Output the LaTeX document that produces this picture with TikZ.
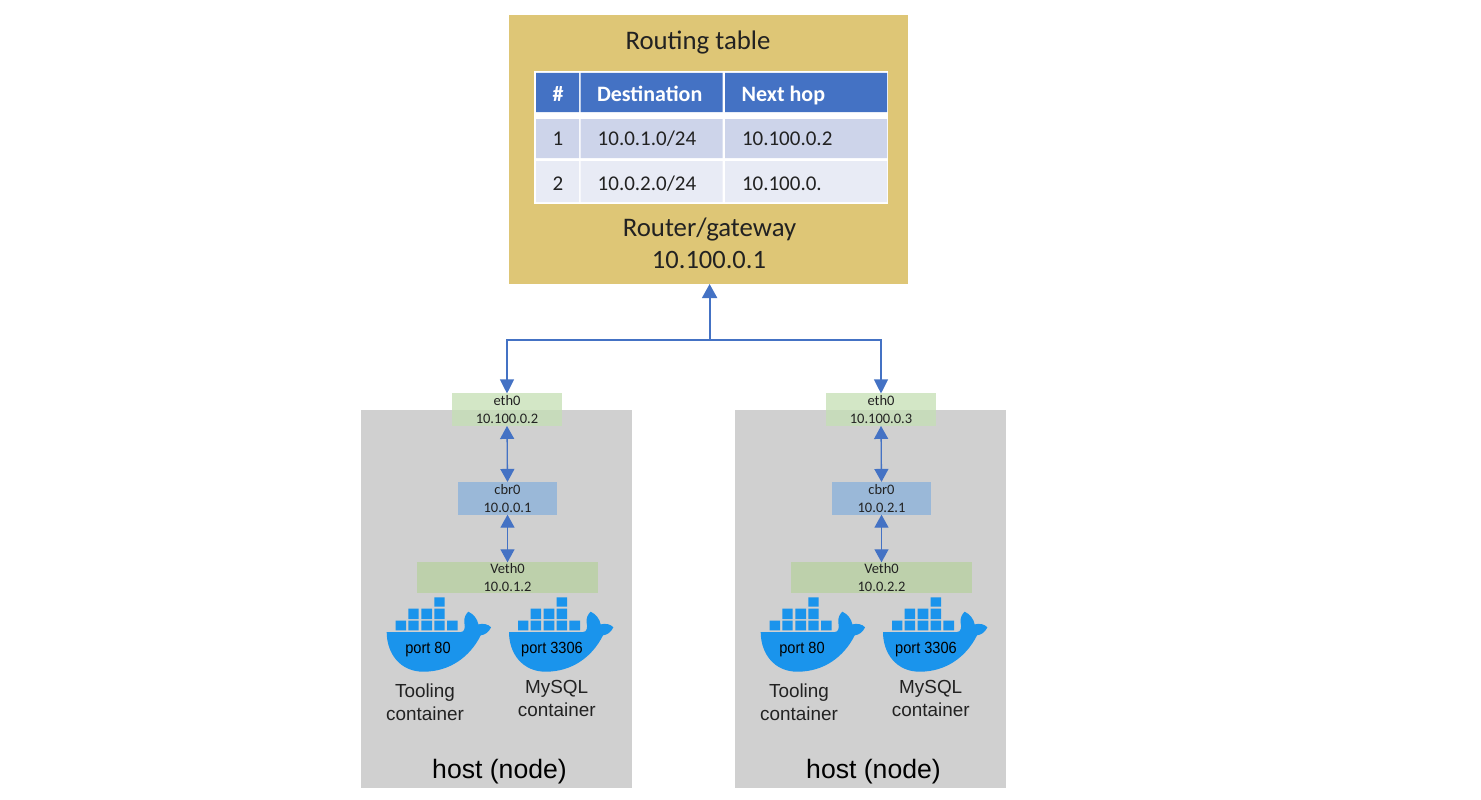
\documentclass[tikz,border=0pt]{standalone}
\usepackage{fontspec}
\setmainfont{Carlito}
\newfontfamily\arialf{Liberation Sans}
\newfontfamily\arialn[FakeStretch=0.9]{Liberation Sans}
\usetikzlibrary{arrows.meta}
\definecolor{gold}{HTML}{DEC676}
\definecolor{hdrblue}{HTML}{4472C4}
\definecolor{rowa}{HTML}{CDD4EA}
\definecolor{rowb}{HTML}{E8EBF5}
\definecolor{hostgrey}{HTML}{D0D0D0}
\definecolor{ethgreen}{HTML}{C5E0B4}
\definecolor{cbrblue}{HTML}{9AB8D8}
\definecolor{vethgreen}{HTML}{BDD0AB}
\definecolor{whaleblue}{HTML}{1A94EC}
\definecolor{inkdark}{HTML}{222222}
\tikzset{
  x=1pt,y=-1pt,
  every node/.style={inner sep=0pt,outer sep=0pt,text=inkdark},
  smalltext/.style={font=\fontsize{14.5}{18}\selectfont,align=center},
  cell/.style={font=\fontsize{21}{25}\selectfont,anchor=base west},
  cellc/.style={font=\fontsize{21}{25}\selectfont,anchor=base},
  hdr/.style={font=\fontsize{22}{25}\selectfont\bfseries,anchor=base west,text=white},
  bigtext/.style={font=\fontsize{26.8}{32}\selectfont,anchor=base},
  conlabel/.style={font=\arialf\fontsize{18.9}{23.5}\selectfont,align=center,text=inkdark},
  portlabel/.style={font=\arialn\fontsize{16.2}{17}\selectfont,anchor=base,text=black},
  hostlabel/.style={font=\arialf\fontsize{26.6}{30}\selectfont,anchor=base,text=black},
  link/.style={draw=hdrblue,line width=1.3pt,{Triangle[width=14pt,length=13pt,fill=hdrblue]}-{Triangle[width=14pt,length=13pt,fill=hdrblue]}},
  linkdown/.style={draw=hdrblue,line width=1.1pt,-{Triangle[width=14pt,length=14pt,fill=hdrblue]}},
  linkup/.style={draw=hdrblue,line width=1.8pt,-{Triangle[width=15pt,length=14pt,fill=hdrblue]}},
  whale/.pic={
    \begin{scope}[scale=1/3,shift={(-50,-128)}]
      \fill[whaleblue] (50,126) -- (272,126) .. controls (284,126) and (286,112) .. (283,98)
        .. controls (281,84) and (287,72) .. (295,65)
        .. controls (310,72) and (322,86) .. (325,103)
        .. controls (340,99) and (356,103) .. (363,112)
        .. controls (356,127) and (345,134) .. (332,136)
        .. controls (300,200) and (240,245) .. (160,245)
        .. controls (90,245) and (50,190) .. (50,126) -- cycle;
      \fill[whaleblue]
        (77,92) rectangle (108,121) (115,92) rectangle (146,121) (154,92) rectangle (186,121)
        (193,92) rectangle (224,121) (231,92) rectangle (263,121)
        (115,56) rectangle (146,87) (154,56) rectangle (186,87) (193,56) rectangle (224,87)
        (193,22) rectangle (224,50);
    \end{scope}
  }
}
\newcommand{\hostblock}[5]{%
  \begin{scope}[xshift=#2pt]
    \node[fill=hostgrey,minimum width=271pt,minimum height=378pt] (host#1) at (496.5,599) {};
    \node[fill=ethgreen,fill opacity=.75,text opacity=1,minimum width=109.5pt,minimum height=32.5pt,smalltext] (eth#1) at (507,409.7) {eth0\\#3};
    \node[fill=cbrblue,minimum width=99pt,minimum height=32.7pt,smalltext] (cbr#1) at (507.5,498.3) {cbr0\\#4};
    \node[fill=vethgreen,minimum width=180.7pt,minimum height=31pt,smalltext] (veth#1) at (507.5,577.8) {Veth0\\#5};
    \draw[link] (eth#1.south) -- (cbr#1.north);
    \draw[link] (cbr#1.south) -- (veth#1.north);
    \pic at (386.7,632.7) {whale};
    \pic at (509,632.7) {whale};
    \node[portlabel] (porta#1) at (428,653) {port 80};
    \node[portlabel] (portb#1) at (552,653) {port 3306};
    \node[conlabel] (cona#1) at (425,702) {Tooling\\container};
    \node[conlabel] (conb#1) at (556.7,698.5) {MySQL\\container};
    \node[hostlabel] (lab#1) at (499.5,778) {host (node)};
  \end{scope}
}
\begin{document}
\begin{tikzpicture}
\useasboundingbox (0,0) rectangle (1481,800);
\fill[white] (0,0) rectangle (1481,800);
% router
\node[fill=gold,minimum width=399pt,minimum height=269pt] (router) at (708.5,149.5) {};
\node[bigtext] (rt) at (698,50) {Routing table};
\node[fill=white,minimum width=354pt,minimum height=133pt] (tbl) at (711,137.5) {};
% table cells
\fill[hdrblue] (536,73) rectangle (579,112) (580.5,73) rectangle (722.7,112) (725,73) rectangle (887,112);
\fill[rowa] (536,119) rectangle (579,158) (580.5,119) rectangle (722.7,158) (725,119) rectangle (887,158);
\fill[rowb] (536,161) rectangle (579,202) (580.5,161) rectangle (722.7,202) (725,161) rectangle (887,202);
\node[hdr,anchor=base] (h0) at (558,102) {\#};
\node[hdr] (h1) at (597,102) {Destination};
\node[hdr] (h2) at (741.7,102) {Next hop};
\node[cellc] (a0) at (558,145.7) {1};
\node[cell] (a1) at (597.7,145.7) {10.0.1.0/24};
\node[cell] (a2) at (742,145.7) {10.100.0.2};
\node[cellc] (b0) at (558,190) {2};
\node[cell] (b1) at (597.7,190) {10.0.2.0/24};
\node[cell] (b2) at (742,190) {10.100.0.};
\node[bigtext] (rg) at (709.5,236) {Router/gateway};
\node[bigtext,font=\fontsize{26.5}{32}\selectfont] (ra) at (709,268) {10.100.0.1};
% hosts
\hostblock{L}{0}{10.100.0.2}{10.0.0.1}{10.0.1.2}
\hostblock{R}{374}{10.100.0.3}{10.0.2.1}{10.0.2.2}
% uplinks
\coordinate (junc) at (709.6,340);
\draw[linkup] (junc) -- (junc |- router.south);
\draw[linkdown] (junc) -| (ethL.north);
\draw[linkdown] (junc) -| (ethR.north);
\end{tikzpicture}
\end{document}
